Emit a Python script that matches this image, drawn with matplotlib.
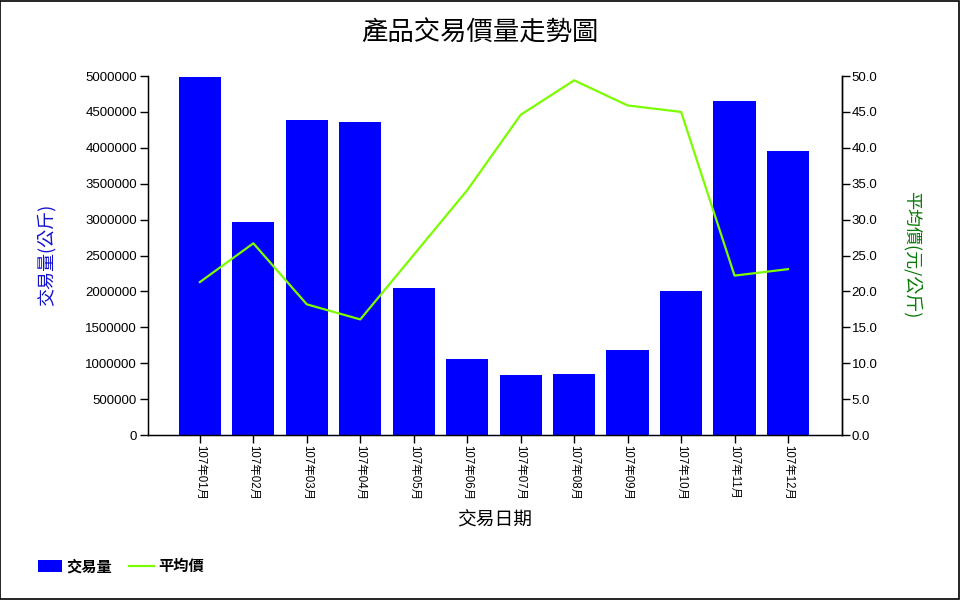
import matplotlib

matplotlib.use("Agg")
import matplotlib.pyplot as plt
from matplotlib.patches import Rectangle
from matplotlib.ticker import FormatStrFormatter, MultipleLocator

plt.rcParams["font.family"] = ["Liberation Sans", "Noto Sans CJK TC", "DejaVu Sans"]
CJK = ["Noto Sans CJK TC", "DejaVu Sans"]

# ---- data ----
months = ["107年01月", "107年02月", "107年03月", "107年04月", "107年05月", "107年06月",
          "107年07月", "107年08月", "107年09月", "107年10月", "107年11月", "107年12月"]
volume = [4990000, 2970000, 4390000, 4360000, 2045000, 1060000,
          840000, 850000, 1180000, 2005000, 4650000, 3955000]
avg_price = [21.3, 26.7, 18.2, 16.1, 25.1, 34.1,
             44.6, 49.4, 45.9, 45.0, 22.2, 23.1]

BAR = "#0000FF"
LINE = "#7CFC00"
RLABEL = "#0A7A0A"

fig = plt.figure(figsize=(9.6, 6.0), dpi=100)
fig.patches.append(Rectangle((0.0005, 0.001), 0.998, 0.997, transform=fig.transFigure,
                             fill=False, edgecolor="black", linewidth=1.2))

ax = fig.add_axes([0.1542, 0.275, 0.7229, 0.5983])
x = list(range(len(months)))
bars = ax.bar(x, volume, width=0.79, color=BAR, linewidth=0, zorder=2)
ax.set_xlim(-0.97, 12.01)
ax.set_ylim(0, 5000000)
ax.yaxis.set_major_locator(MultipleLocator(500000))
ax.yaxis.set_major_formatter(FormatStrFormatter("%d"))
ax.set_xticks(x)
ax.set_xticklabels(months, rotation=-90, fontsize=8.3, va="top", ha="center")
ax.tick_params(axis="both", direction="out", length=6, width=1, colors="black")
ax.tick_params(axis="y", labelsize=9.5, pad=2)
ax.tick_params(axis="x", pad=1.5)
ax.spines["top"].set_visible(False)
for s in ("left", "bottom", "right"):
    ax.spines[s].set_linewidth(1)

ax2 = ax.twinx()
line, = ax2.plot(x, avg_price, color=LINE, linewidth=1.6, zorder=3)
ax2.set_ylim(0, 50)
ax2.yaxis.set_major_locator(MultipleLocator(5))
ax2.yaxis.set_major_formatter(FormatStrFormatter("%.1f"))
ax2.tick_params(axis="y", direction="out", length=6, width=1, labelsize=9.5, pad=1)
ax2.spines["top"].set_visible(False)
ax2.spines["right"].set_linewidth(1)

fig.text(0.5, 0.945, "產品交易價量走勢圖", ha="center", va="center",
         fontsize=19, family=CJK)
fig.text(0.048, 0.575, "交易量(公斤)", rotation=90, ha="center", va="center",
         fontsize=13, color="#1010D0", family=CJK)
fig.text(0.950, 0.575, "平均價(元/公斤)", rotation=-90, ha="center", va="center",
         fontsize=13, color=RLABEL, family=CJK)
fig.text(0.5155, 0.133, "交易日期", ha="center", va="center", fontsize=13.5, family=CJK)

fig.legend([bars, line], ["交易量", "平均價"], loc="center left",
           bbox_to_anchor=(0.025, 0.056), ncol=2, frameon=False,
           handlelength=1.6, handleheight=0.9, handletextpad=0.3, columnspacing=1.1,
           prop={"family": CJK, "size": 11, "weight": "bold"})

fig.savefig("out.png", dpi=100, facecolor="white")
